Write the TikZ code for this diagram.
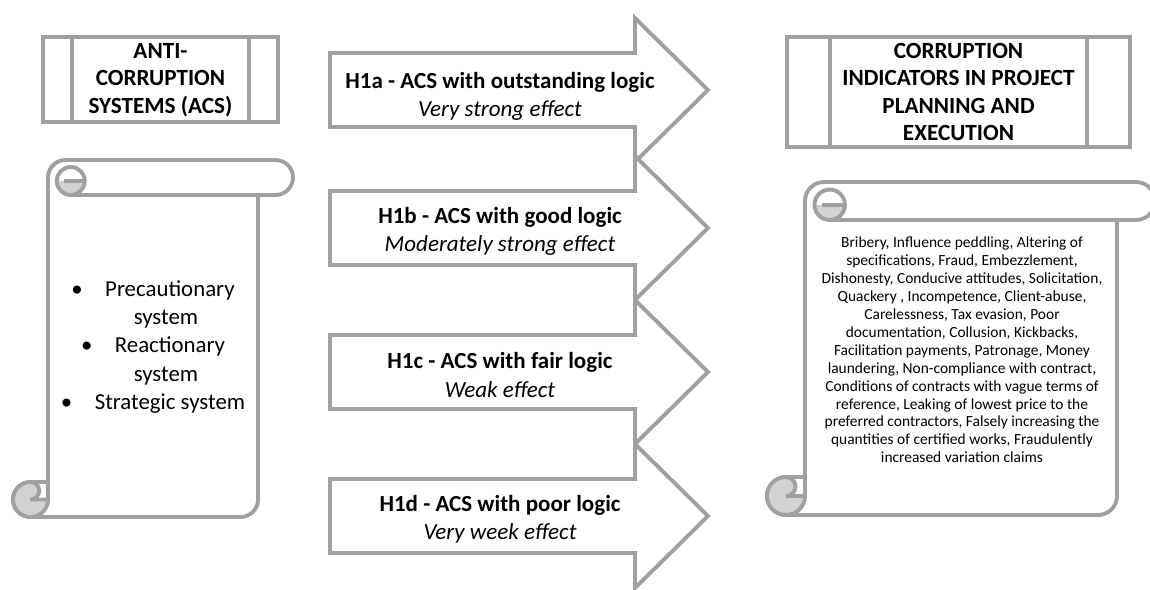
\documentclass[tikz,border=0pt]{standalone}
\usepackage{fontspec}
\setmainfont{Carlito}

\definecolor{linegray}{RGB}{160,160,160}
\definecolor{curlgray}{RGB}{210,210,210}

\tikzset{
  shapeline/.style={draw=linegray, line width=2.2pt},
  headtext/.style={align=center, font=\bfseries\fontsize{13.2}{15.7}\selectfont},
  hyptext/.style={align=center, font=\fontsize{13.1}{16}\selectfont},
}

% predefined-process box: left, top, right, bottom
\newcommand{\ppbox}[4]{%
  \pgfmathsetmacro\bxa{#1+(#3-#1)/8}
  \pgfmathsetmacro\bxb{#3-(#3-#1)/8}
  \draw[shapeline, fill=white] (#1,#2) rectangle (#3,#4);
  \draw[shapeline] (\bxa,#2) -- (\bxa,#4) (\bxb,#2) -- (\bxb,#4);
}

% block arrow centred at y
\newcommand{\hyparrow}[1]{%
  \draw[shapeline, fill=white] (330,{#1-37}) -- (635,{#1-37}) -- (635,{#1-72})
    -- (708,#1) -- (635,{#1+72}) -- (635,{#1+37}) -- (330,{#1+37}) -- cycle;
}

% vertical scroll: left, top, right, bottom, roll
\newcommand{\vscroll}[5]{%
  \pgfmathsetmacro\sxa{#1+#5}
  \pgfmathsetmacro\sxh{#1+#5/2}
  \pgfmathsetmacro\sxf{#3-#5}
  \pgfmathsetmacro\sxg{#3-#5/2}
  \pgfmathsetmacro\syc{#4-#5}
  \pgfmathsetmacro\syd{#4-#5/2}
  \pgfmathsetmacro\syh{#2+#5/2}
  \pgfmathsetmacro\syr{#2+#5}
  \pgfmathsetmacro\sr{#5/2}
  \pgfmathsetmacro\sq{#5/4}
  \pgfmathsetmacro\scx{#1+1.65*#5}
  \pgfmathsetmacro\scr{0.4*#5}
  \pgfmathsetmacro\scy{#2+0.6*#5}
  \draw[shapeline, fill=white] (\sxa,\syc) -- (\sxa,\syh)
    arc[start angle=180, delta angle=90, radius=\sr] -- (\sxg,#2)
    arc[start angle=270, delta angle=180, radius=\sr] -- (\sxf,\syr) -- (\sxf,\syd)
    arc[start angle=0, delta angle=90, radius=\sr] -- (\sxh,#4)
    arc[start angle=90, delta angle=180, radius=\sr] -- cycle;
  % top curl
  \draw[shapeline] (\sxf,\syr) -- (\scx,\syr);
  \fill[curlgray] ({\scx-\scr},\scy) arc[start angle=180, delta angle=-180, radius=\scr] -- cycle;
  \draw[shapeline] (\scx,\scy) circle[radius=\scr];
  \draw[shapeline] ({\scx-0.5*\scr},\scy) -- ({\scx+\scr},\scy);
  % bottom curl
  \fill[curlgray] (\sxh,\syc) arc[start angle=270, delta angle=180, radius=\sq] -- (\sxa,\syd)
    arc[start angle=0, delta angle=90, radius=\sr]
    arc[start angle=90, delta angle=180, radius=\sr] -- cycle;
  \draw[shapeline] (\sxh,\syc) arc[start angle=270, delta angle=180, radius=\sq] -- (\sxa,\syd);
  \draw[shapeline] (\sxh,#4) arc[start angle=90, delta angle=-90, radius=\sr] -- (\sxa,\syc);
  \draw[shapeline] (\sxh,#4) arc[start angle=90, delta angle=180, radius=\sr];
}

\begin{document}
\begin{tikzpicture}[x=0.02cm, y=-0.02cm]
  \useasboundingbox (0,0) rectangle (1150,590);

  % headers
  \ppbox{43}{37}{278}{122}
  \node[headtext] (acs) at (160.5,80) {ANTI-\\CORRUPTION\\SYSTEMS (ACS)};
  \ppbox{787}{37}{1130}{147}
  \node[headtext] (indicators) at (958.5,92) {CORRUPTION\\INDICATORS IN PROJECT\\PLANNING AND\\EXECUTION};

  % scrolls
  \vscroll{13}{160}{293}{517}{35}
  \node[align=center, font=\fontsize{13}{16.2}\selectfont] (acslist) at (153,347)
    {\textbullet\hspace{0.45cm}Precautionary\\\hspace*{0.52cm}system\\
     \textbullet\hspace{0.45cm}Reactionary\\\hspace*{0.52cm}system\\
     \textbullet\hspace{0.45cm}Strategic system};
  \vscroll{767}{182}{1155}{515}{38}
  \node[align=center, font=\fontsize{8.8}{10.2}\selectfont] (indlist) at (962,350)
    {Bribery, Influence peddling, Altering of\\
     specifications, Fraud, Embezzlement,\\
     Dishonesty, Conducive attitudes, Solicitation,\\
     Quackery , Incompetence, Client-abuse,\\
     Carelessness, Tax evasion, Poor\\
     documentation, Collusion, Kickbacks,\\
     Facilitation payments, Patronage, Money\\
     laundering, Non-compliance with contract,\\
     Conditions of contracts with vague terms of\\
     reference, Leaking of lowest price to the\\
     preferred contractors, Falsely increasing the\\
     quantities of certified works, Fraudulently\\
     increased variation claims};

  % hypotheses
  \hyparrow{90}
  \node[hyptext] (h1a) at (500,96) {\textbf{H1a - ACS with outstanding logic}\\\textit{Very strong effect}};
  \hyparrow{228}
  \node[hyptext] (h1b) at (500,231) {\textbf{H1b - ACS with good logic}\\\textit{Moderately strong effect}};
  \hyparrow{372}
  \node[hyptext] (h1c) at (500,375) {\textbf{H1c - ACS with fair logic}\\\textit{Weak effect}};
  \hyparrow{516}
  \node[hyptext] (h1d) at (500,519) {\textbf{H1d - ACS with poor logic}\\\textit{Very week effect}};
\end{tikzpicture}
\end{document}
